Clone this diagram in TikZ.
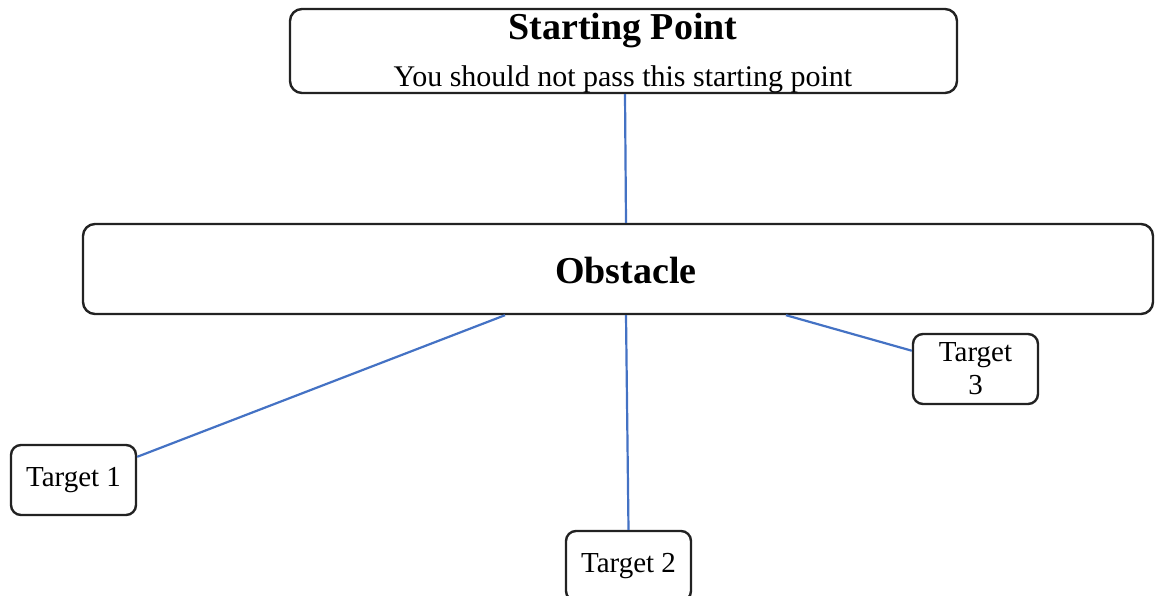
\documentclass[tikz,border=0pt]{standalone}
\usepackage{fontspec}
\setmainfont{Liberation Serif}
\definecolor{linkblue}{HTML}{4472C4}
\definecolor{boxline}{HTML}{222222}
\tikzset{
  bigbox/.style={draw=boxline, line width=2.4pt, rounded corners=12pt, inner sep=0pt},
  smallbox/.style={draw=boxline, line width=2.4pt, rounded corners=10pt, inner sep=0pt,
    minimum width=125pt, minimum height=70pt, align=center,
    font=\fontsize{29}{29}\selectfont},
  link/.style={draw=linkblue, line width=2.2pt},
}
\begin{document}
\begin{tikzpicture}[x=1pt,y=-1pt]
\useasboundingbox (0,0) rectangle (1159,596);
\node[bigbox, minimum width=667pt, minimum height=84pt] (start) at (623.5,51) {};
\node[font=\fontsize{38}{38}\selectfont\bfseries] (title) at (623,31) {Starting Point};
\node[font=\fontsize{30}{30}\selectfont] (sub) at (623,79) {You should not pass this starting point};
\node[bigbox, minimum width=1070pt, minimum height=90pt,
  font=\fontsize{38}{38}\selectfont\bfseries] (obs) at (618,269) {};
\node[font=\fontsize{38}{38}\selectfont\bfseries] (obstext) at (626,271) {Obstacle};
\node[smallbox] (t1) at (73.5,480) {Target 1};
\node[smallbox] (t2) at (628.5,566) {Target 2};
\node[smallbox, font=\fontsize{29}{33}\selectfont] (t3) at (975.5,369) {Target\\3};
\draw[link] ([xshift=1.5pt]start.south) -- ([xshift=8pt]obs.north);
\draw[link] ([xshift=-113pt]obs.south) -- (t1.20);
\draw[link] ([xshift=8pt]obs.south) -- (t2.north);
\draw[link] ([xshift=168pt]obs.south) -- (t3.164);
\end{tikzpicture}
\end{document}
